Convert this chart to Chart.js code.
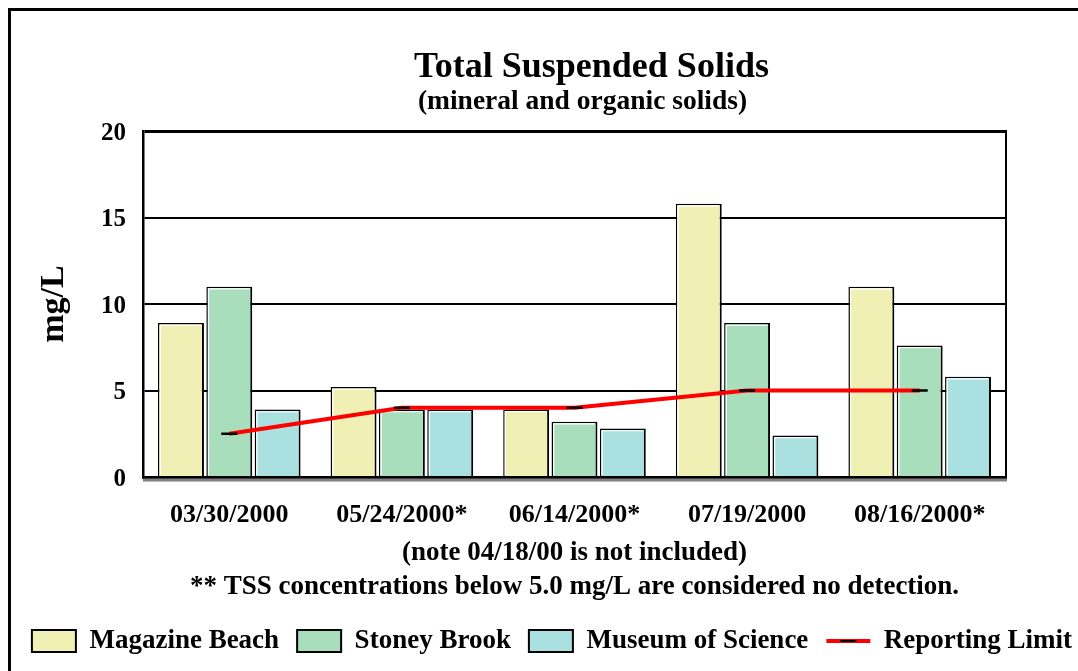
<!DOCTYPE html>
<html>
<head>
<meta charset="utf-8">
<script src="https://cdn.jsdelivr.net/npm/chart.js@4.4.1/dist/chart.umd.min.js"></script>
<style>
  html, body { margin: 0; padding: 0; background: #fff; overflow: hidden; }
  body { width: 1078px; height: 671px; position: relative; }
  #frame { position: absolute; left: 8px; top: 8px; width: 1200px; height: 800px; border: 3px solid #000; box-sizing: border-box; }
  #wrap { position: absolute; left: 0; top: 0; width: 1078px; height: 671px; }
</style>
</head>
<body>
<div id="frame"></div>
<div id="wrap"><canvas id="c" width="1078" height="671"></canvas></div>
<script>
// ---- data ----
const categories = ['03/30/2000', '05/24/2000*', '06/14/2000*', '07/19/2000', '08/16/2000*'];
const magazineBeach = [8.9, 5.2, 3.9, 15.8, 11.0];
const stoneyBrook = [11.0, 3.9, 3.2, 8.9, 7.6];
const museumOfScience = [3.9, 3.9, 2.8, 2.4, 5.8];
const reportingLimit = [2.5, 4.0, 4.0, 5.0, 5.0];
const seriesNames = ['Magazine Beach', 'Stoney Brook', 'Museum of Science', 'Reporting Limit'];
const yTicks = [0, 5, 10, 15, 20];
const titleText = 'Total Suspended Solids';
const subtitleText = '(mineral and organic solids)';
const yTitle = 'mg/L';
const noteLines = ['(note 04/18/00 is not included)', '** TSS concentrations below 5.0 mg/L are considered no detection.'];

const FONT = '"Liberation Serif", "Times New Roman", "DejaVu Serif", serif';
Chart.defaults.font.family = FONT;
Chart.defaults.font.weight = 'bold';
Chart.defaults.color = '#000';

const colors = ['rgb(240,240,180)', 'rgb(168,222,188)', 'rgb(170,224,224)'];

const barBorder = { top: 1.5, left: 1.5, right: 2, bottom: 0 };

const shiftPlugin = {
  id: 'shiftBoxes',
  afterLayout(chart) {
    chart.boxes.forEach(b => {
      if (b === chart.titleBlock) { b.left += 17; b.right += 17; }
      else if (b.options && b.options.text === subtitleText) { b.left += 8; b.right += 8; }
    });
    if (chart.legend) { chart.legend.left += 13; chart.legend.right += 13; }
  }
};

const barHighlight = {
  id: 'barHighlight',
  afterDatasetDraw(chart, args) {
    const meta = args.meta;
    if (meta.type !== 'bar') return;
    const ctx = chart.ctx;
    ctx.save();
    ctx.strokeStyle = '#fff';
    ctx.lineWidth = 1.2;
    meta.data.forEach(el => {
      const p = el.getProps(['x', 'y', 'base', 'width'], true);
      const l = p.x - p.width / 2 + 2.2;
      const r = p.x + p.width / 2 - 2.5;
      const t = p.y + 2.2;
      ctx.beginPath();
      ctx.moveTo(l, p.base - 1);
      ctx.lineTo(l, t);
      ctx.lineTo(r, t);
      ctx.stroke();
    });
    ctx.restore();
  }
};

const decorPlugin = {
  id: 'decor',
  afterDraw(chart) {
    const ctx = chart.ctx;
    const a = chart.chartArea;
    ctx.save();
    ctx.fillStyle = '#808080';
    ctx.fillRect(a.left, a.bottom + 1.5, a.right - a.left + 1, 3);
    // black dash in the middle of the legend line marker
    const lg = chart.legend;
    if (lg && lg.legendHitBoxes) {
      lg.legendItems.forEach((it, i) => {
        if (it.pointStyle === 'line') {
          const hb = lg.legendHitBoxes[i];
          const bw = lg.options.labels.pointStyleWidth;
          const fs = lg.options.labels.font.size;
          const cx = hb.left + bw / 2;
          const cy = hb.top + fs / 2;
          ctx.strokeStyle = '#000';
          ctx.lineWidth = 2;
          ctx.beginPath();
          ctx.moveTo(cx - 8, cy);
          ctx.lineTo(cx + 8, cy);
          ctx.stroke();
        }
      });
    }
    ctx.restore();
  }
};

new Chart(document.getElementById('c'), {
  type: 'bar',
  data: {
    labels: categories,
    datasets: [
      { label: seriesNames[0], data: magazineBeach, backgroundColor: colors[0], borderColor: '#000', borderWidth: barBorder, borderSkipped: false, order: 1, pointStyle: 'rect' },
      { label: seriesNames[1], data: stoneyBrook, backgroundColor: colors[1], borderColor: '#000', borderWidth: barBorder, borderSkipped: false, order: 1, pointStyle: 'rect' },
      { label: seriesNames[2], data: museumOfScience, backgroundColor: colors[2], borderColor: '#000', borderWidth: barBorder, borderSkipped: false, order: 1, pointStyle: 'rect' },
      { type: 'line', label: seriesNames[3], data: reportingLimit, borderColor: '#ff0000', backgroundColor: '#ff0000', borderWidth: 4, tension: 0, fill: false,
        pointStyle: 'line', pointRadius: 8, pointBorderColor: '#000', pointBackgroundColor: '#000', pointBorderWidth: 2.5, order: 0 }
    ]
  },
  options: {
    responsive: false,
    animation: false,
    events: [],
    devicePixelRatio: 1,
    datasets: { bar: { categoryPercentage: 0.84, barPercentage: 0.95 } },
    layout: { padding: { top: 40, left: 0, right: 0, bottom: 6.5 } },
    plugins: {
      tooltip: { enabled: false },
      title: {
        display: true, text: titleText, fullSize: false, color: '#000',
        font: { size: 36, weight: 'bold', lineHeight: 1 },
        padding: { top: 10, bottom: 0 }
      },
      subtitle: {
        display: true, text: subtitleText, fullSize: false, color: '#000',
        font: { size: 27.5, weight: 'bold', lineHeight: 1 },
        padding: { top: 2, bottom: 15.5 }
      },
      legend: {
        position: 'bottom',
        labels: {
          usePointStyle: true,
          pointStyleWidth: 44,
          boxHeight: 22,
          padding: 18,
          color: '#000',
          font: { size: 27, weight: 'bold' },
          generateLabels(chart) {
            const items = Chart.defaults.plugins.legend.labels.generateLabels(chart);
            items.forEach(it => {
              const ds = chart.data.datasets[it.datasetIndex];
              if (ds.type === 'line') {
                it.pointStyle = 'line';
                it.strokeStyle = ds.borderColor;
                it.lineWidth = 4;
              } else {
                it.pointStyle = 'rect';
                it.fillStyle = ds.backgroundColor;
                it.strokeStyle = '#000';
                it.lineWidth = 2;
              }
            });
            return items.sort((a, b) => a.datasetIndex - b.datasetIndex);
          }
        }
      }
    },
    scales: {
      x: {
        grid: { display: false, drawTicks: false },
        border: { display: true, color: '#000', width: 3 },
        ticks: { padding: 23, color: '#000', font: { size: 26, weight: 'bold' } },
        title: {
          display: true, text: noteLines, color: '#000',
          font: { size: 27, weight: 'bold', lineHeight: '34px' },
          padding: { top: 6, bottom: 5.5 }
        },
        afterFit(scale) { scale.height = 132.5; }
      },
      y: {
        min: 0, max: 20,
        afterBuildTicks(scale) { scale.ticks = yTicks.map(v => ({ value: v })); },
        grid: { color: '#000', lineWidth: c => (c.tick && c.tick.value === 20 ? 3 : 2), drawTicks: false },
        border: { display: true, color: '#000', width: 2.5 },
        ticks: { padding: 17, labelOffset: 2.5, color: '#000', font: { size: 25, weight: 'bold' } },
        title: {
          display: true, text: yTitle, color: '#000',
          font: { size: 34, weight: 'bold', lineHeight: 1 },
          padding: { top: 37, bottom: 10 }
        },
        afterFit(scale) { scale.width = 143; }
      },
      y2: {
        type: 'linear', position: 'right', axis: 'y', min: 0, max: 20,
        grid: { display: false, drawTicks: false },
        border: { display: true, color: '#000', width: 2 },
        ticks: { display: false },
        afterFit(scale) { scale.width = 72; }
      }
    }
  },
  plugins: [shiftPlugin, barHighlight, decorPlugin]
});
</script>
</body>
</html>
